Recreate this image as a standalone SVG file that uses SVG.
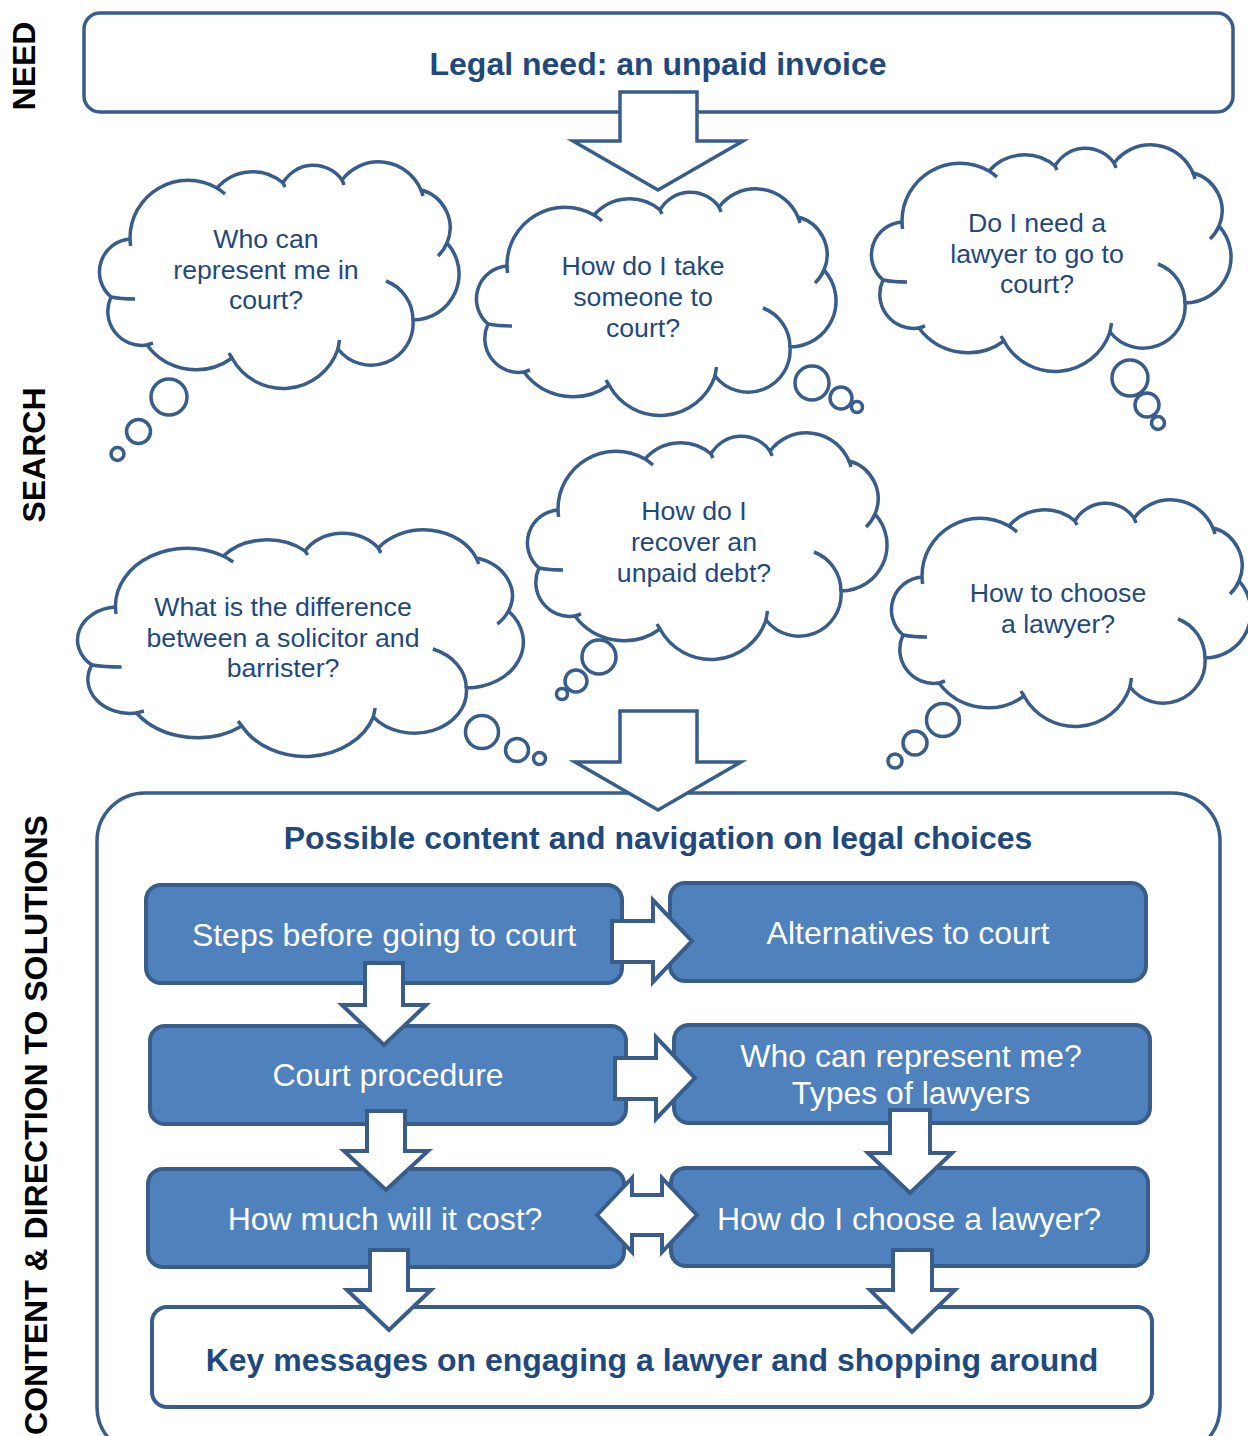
<svg xmlns="http://www.w3.org/2000/svg" xmlns:xlink="http://www.w3.org/1999/xlink" width="1248" height="1436" viewBox="0 0 1248 1436">
  <style>
    .frame { fill: #fff; stroke: #385D8A; stroke-width: 3.5; }
    .cloud { fill: #fff; stroke: #385D8A; stroke-width: 3.5; vector-effect: non-scaling-stroke; }
    .seam { fill: none; stroke: #385D8A; stroke-width: 3.5; vector-effect: non-scaling-stroke; }
    .bub { fill: #fff; stroke: #385D8A; stroke-width: 3.5; }
    .box { fill: #4F81BD; stroke: #385D8A; stroke-width: 4; }
    .key { fill: #fff; stroke: #385D8A; stroke-width: 4; }
    .arr { fill: #fff; stroke: #385D8A; stroke-width: 4; stroke-linejoin: miter; }
    .big { fill: #fff; stroke: #385D8A; stroke-width: 3.5; stroke-linejoin: miter; }
    text { font-family: "Liberation Sans", Arial, sans-serif; text-anchor: middle; }
    .qt { font-size: 26.7px; fill: #1F497D; }
    .bt { font-size: 32px; fill: #fff; }
    .hd { font-size: 32px; font-weight: bold; fill: #1F497D; }
    .lbl { font-size: 32px; font-weight: bold; fill: #000; }
  </style>
  <defs>
    <!-- thought cloud outline, local frame about 367 x 226 -->
    <path id="cloud-body" class="cloud" d="M35 77 A58 58 0 0 1 122 26 A47 47 0 0 1 188 21 A35 35 0 0 1 247 18 A46 46 0 0 1 326 28 A39 39 0 0 1 352 81 A46 46 0 0 1 318 158 A42 42 0 0 1 243 187 A58 58 0 0 1 137 196 A61 61 0 0 1 52 183 A34 34 0 0 1 16 135 A33 33 0 0 1 35 77 Z"/>
    <!-- short inner arcs where the lobes overlap -->
    <path id="cloud-seams" class="seam" d="M35.6 84 A58 58 0 0 1 35 77 M122 26 A58 58 0 0 1 130 32 M188 21 A47 47 0 0 1 190 25 M247 18 A35 35 0 0 1 249 23 M326 28 A46 46 0 0 1 328 34 M352 81 A39 39 0 0 1 343 94 M291 119 A42 42 0 0 1 318 158 M244.5 178 L243 187 M137 196 A58 58 0 0 1 134 191 M58 181 L52 183 M16 135 Q26 137 40 137"/>
    <g id="cloud-shape">
      <use href="#cloud-body"/>
      <use href="#cloud-seams"/>
    </g>
  </defs>

  <!-- stage labels -->
  <g id="stage-labels">
    <text class="lbl" transform="translate(35,66) rotate(-90)">NEED</text>
    <text class="lbl" transform="translate(45,455) rotate(-90)">SEARCH</text>
    <text class="lbl" transform="translate(47,1125) rotate(-90)">CONTENT &amp; DIRECTION TO SOLUTIONS</text>
  </g>

  <!-- need -->
  <g id="need">
    <rect class="frame" x="84" y="13" width="1149" height="99" rx="16"/>
    <text class="hd" x="658" y="75">Legal need: an unpaid invoice</text>
  </g>

  <!-- search questions -->
  <g id="q-represent">
    <use href="#cloud-shape" transform="translate(95,162)"/>
    <circle class="bub" cx="169" cy="397" r="18"/>
    <circle class="bub" cx="138.5" cy="431.5" r="12"/>
    <circle class="bub" cx="117.5" cy="454" r="6.5"/>
    <text class="qt" x="266" y="248">Who can</text>
    <text class="qt" x="266" y="279">represent me in</text>
    <text class="qt" x="266" y="309">court?</text>
  </g>

  <g id="q-take-to-court">
    <use href="#cloud-shape" transform="translate(472,189)"/>
    <circle class="bub" cx="812" cy="383" r="17"/>
    <circle class="bub" cx="841" cy="398" r="11"/>
    <circle class="bub" cx="857" cy="407" r="5.5"/>
    <text class="qt" x="643" y="275">How do I take</text>
    <text class="qt" x="643" y="306">someone to</text>
    <text class="qt" x="643" y="337">court?</text>
  </g>

  <g id="q-need-lawyer">
    <use href="#cloud-shape" transform="translate(867,145)"/>
    <circle class="bub" cx="1130" cy="378" r="18"/>
    <circle class="bub" cx="1147" cy="405" r="12"/>
    <circle class="bub" cx="1158" cy="423" r="6.5"/>
    <text class="qt" x="1037" y="232">Do I need a</text>
    <text class="qt" x="1037" y="263">lawyer to go to</text>
    <text class="qt" x="1037" y="293">court?</text>
  </g>

  <g id="q-recover-debt">
    <use href="#cloud-shape" transform="translate(523,433)"/>
    <circle class="bub" cx="599" cy="657" r="17"/>
    <circle class="bub" cx="576" cy="681" r="11"/>
    <circle class="bub" cx="562" cy="694" r="5.5"/>
    <text class="qt" x="694" y="520">How do I</text>
    <text class="qt" x="694" y="551">recover an</text>
    <text class="qt" x="694" y="582">unpaid debt?</text>
  </g>

  <g id="q-solicitor-barrister">
    <use href="#cloud-shape" transform="translate(72,530) scale(1.24,1)"/>
    <circle class="bub" cx="482" cy="732" r="16.5"/>
    <circle class="bub" cx="517" cy="750" r="11.5"/>
    <circle class="bub" cx="539.5" cy="758.5" r="6"/>
    <text class="qt" x="283" y="616">What is the difference</text>
    <text class="qt" x="283" y="647">between a solicitor and</text>
    <text class="qt" x="283" y="677">barrister?</text>
  </g>

  <g id="q-choose-lawyer">
    <use href="#cloud-shape" transform="translate(887,500)"/>
    <circle class="bub" cx="943" cy="720" r="16.5"/>
    <circle class="bub" cx="915" cy="743" r="12"/>
    <circle class="bub" cx="895" cy="761" r="7"/>
    <text class="qt" x="1058" y="602">How to choose</text>
    <text class="qt" x="1058" y="633">a lawyer?</text>
  </g>

  <!-- content and navigation -->
  <g id="content-frame">
    <rect class="frame" x="97" y="793" width="1123" height="662" rx="48"/>
    <text class="hd" x="658" y="849">Possible content and navigation on legal choices</text>
  </g>

  <g id="steps-before-court">
    <rect class="box" x="146" y="885" width="476" height="98" rx="15"/>
    <text class="bt" x="384" y="946">Steps before going to court</text>
  </g>
  <g id="alternatives">
    <rect class="box" x="670" y="883" width="476" height="98" rx="15"/>
    <text class="bt" x="908" y="944">Alternatives to court</text>
  </g>
  <g id="court-procedure">
    <rect class="box" x="150" y="1026" width="476" height="98" rx="15"/>
    <text class="bt" x="388" y="1086">Court procedure</text>
  </g>
  <g id="who-can-represent">
    <rect class="box" x="674" y="1025" width="476" height="98" rx="15"/>
    <text class="bt" x="911" y="1067">Who can represent me?</text>
    <text class="bt" x="911" y="1104">Types of lawyers</text>
  </g>
  <g id="cost">
    <rect class="box" x="148" y="1169" width="476" height="98" rx="15"/>
    <text class="bt" x="385" y="1230">How much will it cost?</text>
  </g>
  <g id="choose-lawyer">
    <rect class="box" x="671" y="1168" width="477" height="98" rx="15"/>
    <text class="bt" x="909" y="1230">How do I choose a lawyer?</text>
  </g>
  <g id="key-messages">
    <rect class="key" x="152" y="1307" width="1000" height="100" rx="15"/>
    <text class="hd" x="652" y="1371">Key messages on engaging a lawyer and shopping around</text>
  </g>

  <!-- connectors: block arrows -->
  <g id="connectors">
    <polygon class="big" points="620,92 697,92 697,141 743,141 658,190 573,141 620,141"/>
    <polygon class="big" points="620,711 697,711 697,762 741,762 658,810 575,762 620,762"/>

    <polygon class="arr" points="612,921 653,921 653,900 692,941 653,982 653,962 612,962"/>
    <polygon class="arr" points="615,1058 656,1058 656,1037 695,1078 656,1119 656,1099 615,1099"/>
    <polygon class="arr" points="597,1215 632,1178 632,1195 662,1195 662,1178 697,1215 662,1252 662,1235 632,1235 632,1252"/>

    <polygon class="arr" points="365,963 403,963 403,1005 426,1005 384,1045 342,1005 365,1005"/>
    <polygon class="arr" points="367,1111 405,1111 405,1151 428,1151 386,1190 344,1151 367,1151"/>
    <polygon class="arr" points="370,1250 408,1250 408,1290 431,1290 389,1330 347,1290 370,1290"/>
    <polygon class="arr" points="890,1110 930,1110 930,1153 952,1153 910,1193 868,1153 890,1153"/>
    <polygon class="arr" points="893,1250 932,1250 932,1290 955,1290 912,1332 870,1290 893,1290"/>
  </g>
</svg>
